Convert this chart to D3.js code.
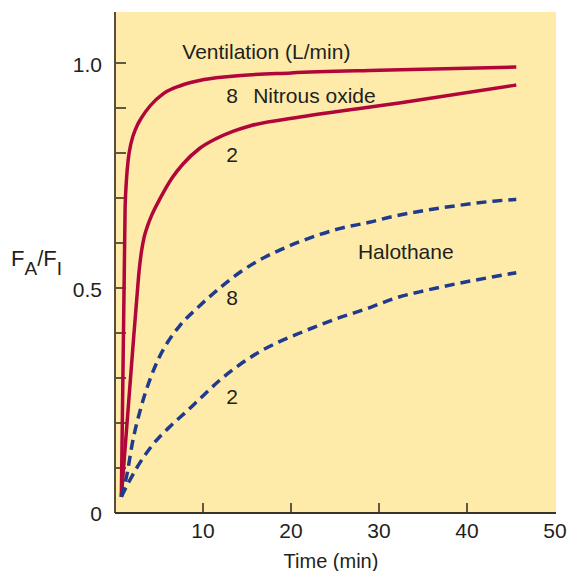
<!DOCTYPE html>
<html>
<head>
<meta charset="utf-8">
<script src="https://cdn.jsdelivr.net/npm/d3@7"></script>
<style>
  body { margin: 0; background: #fff; }
  text { font-family: "Liberation Sans", Arial, Helvetica, sans-serif; fill: #231f20; }
</style>
</head>
<body>
<div id="uptakePlot"></div>
<script>
// Alveolar / inspired concentration ratio vs time
const n2o8 = [[0.72,0.036],[1.15,0.68],[1.3,0.74],[1.5,0.785],[1.8,0.82],[2.4,0.856],[3.0,0.878],[4.0,0.905],[5.5,0.932],[7.5,0.950],[9.6,0.961],[13,0.970],[20,0.978],[30,0.984],[45.6,0.991]];
const n2o2 = [[0.72,0.036],[2.1,0.385],[2.45,0.47],[2.75,0.54],[3.0,0.58],[3.3,0.612],[3.7,0.638],[4.2,0.663],[5.1,0.698],[6.5,0.745],[7.7,0.775],[9.6,0.81],[11.5,0.832],[13.4,0.848],[15.3,0.86],[21,0.88],[32.3,0.911],[45.6,0.951]];
const halo8 = [[0.72,0.036],[1.3,0.08],[2.0,0.158],[3.0,0.238],[4.0,0.298],[5.0,0.345],[6.0,0.38],[7.35,0.416],[9.6,0.46],[11.9,0.5],[14.2,0.535],[16.4,0.562],[18.7,0.584],[21,0.603],[23.3,0.619],[25.5,0.632],[28.9,0.646],[31.6,0.659],[35.4,0.673],[39.2,0.684],[43,0.693],[45.6,0.697]];
const halo2 = [[0.72,0.036],[2.4,0.098],[4.3,0.152],[6.4,0.195],[8.1,0.225],[9.6,0.253],[11.9,0.295],[14.2,0.33],[16.4,0.358],[18.7,0.381],[21,0.4],[23.3,0.418],[25.5,0.434],[28.9,0.456],[31.6,0.476],[35.4,0.495],[39.2,0.511],[43,0.525],[45.6,0.534]];

const xTicks = [10, 20, 30, 40];
const xTickLabels = [10, 20, 30, 40, 50];
const yTicks = [0.1, 0.2, 0.3, 0.4, 0.5, 0.6, 0.7, 0.8, 0.9, 1.0];
const yTickLabels = [0, 0.5, 1.0];

// curve labels: [t, value at baseline, text, anchor]
const curveLabels = [
    [7.65, 1.009, "Ventilation (L/min)", "start"],
    [13.3, 0.911, "8", "middle"],
    [15.7, 0.911, "Nitrous oxide", "start"],
    [13.3, 0.78, "2", "middle"],
    [27.6, 0.564, "Halothane", "start"],
    [13.3, 0.462, "8", "middle"],
    [13.3, 0.242, "2", "middle"]
];

function drawUptakePlot() {
    const margin = { top: 12, right: 12, bottom: 58, left: 115 };

    d3.select("#uptakePlot").selectAll("*").remove();

    const root = d3.select("#uptakePlot")
        .append("svg")
        .attr("width", 568)
        .attr("height", 571);

    const svg = root.append("g")
        .attr("transform", `translate(${margin.left}, ${margin.top})`);

    const xScale = d3.scaleLinear()
        .domain([0, 50])
        .range([0, 440]);

    // y(0) sits at 501, y(1) at 51 inside the group
    const yScale = d3.scaleLinear()
        .domain([0, 1])
        .range([501, 51]);

    // yellow panel
    svg.append("rect")
        .attr("x", 0)
        .attr("y", 0)
        .attr("width", xScale(50) + 1)
        .attr("height", yScale(0))
        .attr("fill", "#feeba9");

    // ticks, pointing inward
    svg.append("g")
        .selectAll("line")
        .data(yTicks)
        .enter()
        .append("line")
        .attr("x1", 0)
        .attr("x2", 11)
        .attr("y1", d => yScale(d))
        .attr("y2", d => yScale(d))
        .attr("stroke", "#3a3329")
        .attr("stroke-width", 1.6);

    svg.append("g")
        .selectAll("line")
        .data(xTicks)
        .enter()
        .append("line")
        .attr("x1", d => xScale(d))
        .attr("x2", d => xScale(d))
        .attr("y1", yScale(0))
        .attr("y2", yScale(0) - 10)
        .attr("stroke", "#3a3329")
        .attr("stroke-width", 1.6);

    // axis lines
    svg.append("line")
        .attr("x1", 0).attr("x2", 0)
        .attr("y1", 0).attr("y2", yScale(0))
        .attr("stroke", "#5b4d3a")
        .attr("stroke-width", 2);

    svg.append("line")
        .attr("x1", 0).attr("x2", xScale(50) + 1)
        .attr("y1", yScale(0)).attr("y2", yScale(0))
        .attr("stroke", "#3a3329")
        .attr("stroke-width", 2);

    // tick labels
    svg.selectAll(".ylab")
        .data(yTickLabels)
        .enter()
        .append("text")
        .attr("class", "ylab")
        .attr("x", -13)
        .attr("y", d => yScale(d) + (d === 0 ? 8 : 9))
        .attr("text-anchor", "end")
        .style("font-size", "21px")
        .text(d => d === 0 ? "0" : d3.format(".1f")(d));

    svg.selectAll(".xlab")
        .data(xTickLabels)
        .enter()
        .append("text")
        .attr("class", "xlab")
        .attr("x", d => xScale(d))
        .attr("y", yScale(0) + 25)
        .attr("text-anchor", "middle")
        .style("font-size", "21px")
        .text(d => d);

    // lines
    const line = d3.line()
        .x(d => xScale(d[0]))
        .y(d => yScale(d[1]))
        .curve(d3.curveMonotoneX);

    const series = [
        { data: n2o8, color: "#b1063a", dash: null },
        { data: n2o2, color: "#b1063a", dash: null },
        { data: halo8, color: "#203a8e", dash: "10,6" },
        { data: halo2, color: "#203a8e", dash: "10,6" }
    ];

    series.forEach(s => {
        svg.append("path")
            .datum(s.data)
            .attr("d", line)
            .attr("fill", "none")
            .attr("stroke", s.color)
            .attr("stroke-width", 3.5)
            .attr("stroke-dasharray", s.dash)
            .attr("stroke-linejoin", "round");
    });

    // curve labels
    curveLabels.forEach(l => {
        svg.append("text")
            .attr("x", xScale(l[0]))
            .attr("y", yScale(l[1]))
            .attr("text-anchor", l[3])
            .style("font-size", "21px")
            .text(l[2]);
    });

    // axis titles
    root.append("text")
        .attr("x", 331)
        .attr("y", 568)
        .attr("text-anchor", "middle")
        .style("font-size", "20px")
        .text("Time (min)");

    const yTitle = root.append("text")
        .attr("x", 11)
        .attr("y", 266)
        .style("font-size", "22px");
    yTitle.append("tspan").text("F");
    yTitle.append("tspan").attr("dy", 9).style("font-size", "19px").text("A");
    yTitle.append("tspan").attr("dy", -9).text("/F");
    yTitle.append("tspan").attr("dy", 9).style("font-size", "19px").text("I");

    console.log("Uptake plot done");
}

drawUptakePlot();
</script>
</body>
</html>
